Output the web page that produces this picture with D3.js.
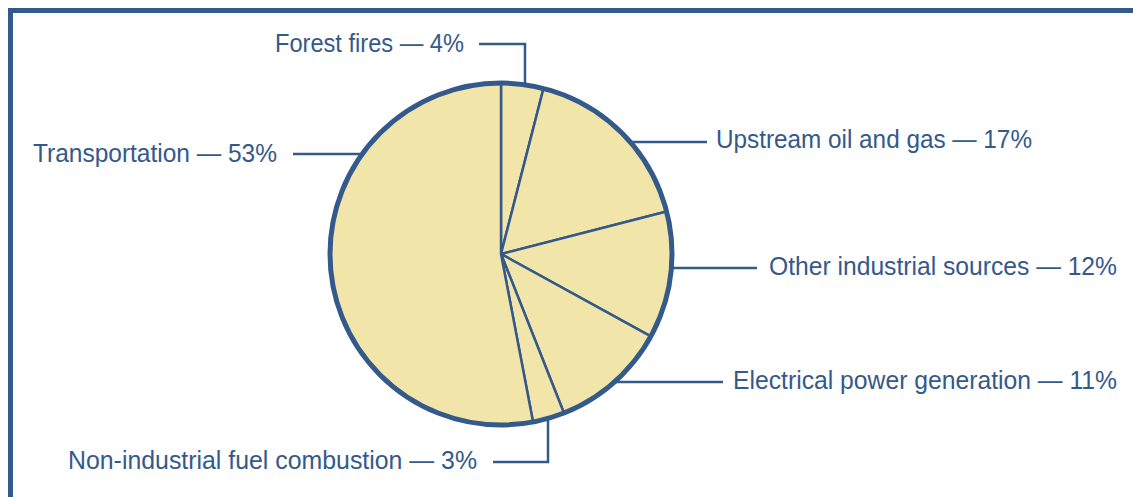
<!DOCTYPE html>
<html>
<head>
<meta charset="utf-8">
<script src="https://cdn.jsdelivr.net/npm/d3@7"></script>
<style>
  html, body { margin: 0; padding: 0; background: #ffffff; }
  svg { display: block; }
</style>
</head>
<body>
<svg id="chart" width="1133" height="497"></svg>
<script>
// ---- data ----
const categories = [
  "Forest fires",
  "Upstream oil and gas",
  "Other industrial sources",
  "Electrical power generation",
  "Non-industrial fuel combustion",
  "Transportation"
];
const values = [4, 17, 12, 11, 3, 53];
const valueLabels = values.map(v => v + "%");

// ---- layout (label placement, not data) ----
const layout = [
  { kind: "vert-top",    lineX: 525, lineY: 44,  endX: 479, textX: 464, textY: 51.5, anchor: "end",   w: 189 },
  { kind: "horiz-right", lineY: 142, endX: 707, textX: 716, textY: 148,  anchor: "start", w: 316 },
  { kind: "horiz-right", lineY: 268, endX: 757, textX: 769, textY: 275,  anchor: "start", w: 348 },
  { kind: "horiz-right", lineY: 382, endX: 723, textX: 733, textY: 389.3, anchor: "start", w: 384 },
  { kind: "vert-bottom", lineX: 548, lineY: 462, endX: 493, textX: 477, textY: 468.5, anchor: "end", w: 409 },
  { kind: "horiz-left",  lineY: 154, endX: 293, textX: 277, textY: 161.7, anchor: "end", w: 244 }
];

const blue = "#34598b";
const fill = "#f2e5aa";
const cx = 501, cy = 254, r = 171;

const svg = d3.select("#chart");

// frame
svg.append("rect")
  .attr("x", 10.5).attr("y", 10.5)
  .attr("width", 1200).attr("height", 600)
  .attr("fill", "none")
  .attr("stroke", blue)
  .attr("stroke-width", 5);

const g = svg.append("g").attr("transform", `translate(${cx},${cy})`);

const pie = d3.pie().sort(null).value(d => d).startAngle(0).endAngle(2 * Math.PI);
const arc = d3.arc().innerRadius(0).outerRadius(r);
const arcs = pie(values);

g.selectAll("path.slice")
  .data(arcs)
  .join("path")
  .attr("class", "slice")
  .attr("d", arc)
  .attr("fill", fill)
  .attr("stroke", blue)
  .attr("stroke-width", 2.5)
  .attr("stroke-linejoin", "round");

g.append("circle")
  .attr("r", r)
  .attr("fill", "none")
  .attr("stroke", blue)
  .attr("stroke-width", 5);

// leaders
const leaders = svg.append("g");
layout.forEach((L, i) => {
  let pts;
  if (L.kind === "vert-top") {
    const dx = L.lineX - cx;
    const y0 = cy - Math.sqrt(r * r - dx * dx);
    pts = [[L.endX, L.lineY], [L.lineX, L.lineY], [L.lineX, y0]];
  } else if (L.kind === "vert-bottom") {
    const dx = L.lineX - cx;
    const y0 = cy + Math.sqrt(r * r - dx * dx);
    pts = [[L.endX, L.lineY], [L.lineX, L.lineY], [L.lineX, y0]];
  } else if (L.kind === "horiz-right") {
    const dy = L.lineY - cy;
    const x0 = cx + Math.sqrt(r * r - dy * dy);
    pts = [[x0, L.lineY], [L.endX, L.lineY]];
  } else {
    const dy = L.lineY - cy;
    const x0 = cx - Math.sqrt(r * r - dy * dy);
    pts = [[L.endX, L.lineY], [x0, L.lineY]];
  }
  leaders.append("path")
    .attr("d", d3.line()(pts))
    .attr("fill", "none")
    .attr("stroke", blue)
    .attr("stroke-width", 2.5);

  leaders.append("text")
    .attr("x", L.textX)
    .attr("y", L.textY)
    .attr("text-anchor", L.anchor)
    .attr("font-family", "'Liberation Sans', Arial, sans-serif")
    .attr("font-size", 25)
    .attr("fill", blue)
    .attr("textLength", L.w)
    .attr("lengthAdjust", "spacingAndGlyphs")
    .text(categories[i] + " \u2014 " + valueLabels[i]);
});
</script>
</body>
</html>
